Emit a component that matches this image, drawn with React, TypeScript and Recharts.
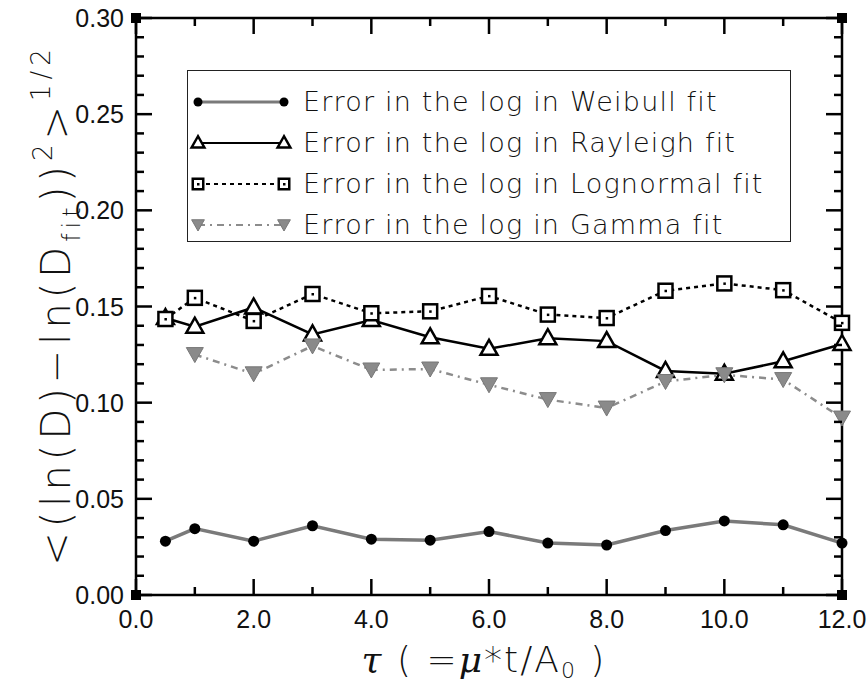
import React from 'react';
import { LineChart, Line, XAxis, YAxis, Legend, ReferenceLine } from 'recharts';

// tau values and fit errors
const tau = [0.5, 1, 2, 3, 4, 5, 6, 7, 8, 9, 10, 11, 12];
const weibull = [0.028, 0.0345, 0.028, 0.036, 0.029, 0.0285, 0.033, 0.027, 0.026, 0.0335, 0.0385, 0.0365, 0.027];
const rayleigh = [0.144, 0.1395, 0.1495, 0.1355, 0.143, 0.134, 0.128, 0.1335, 0.132, 0.1165, 0.115, 0.1215, 0.1305];
const lognormal = [0.1435, 0.1545, 0.1425, 0.1565, 0.1465, 0.1475, 0.1555, 0.1458, 0.144, 0.1582, 0.162, 0.1585, 0.1415];
const gamma = [null, 0.125, 0.115, 0.1295, 0.117, 0.1175, 0.1093, 0.1016, 0.0972, 0.111, 0.1145, 0.112, 0.092];

const xMajor = [0, 2, 4, 6, 8, 10, 12];
const xMinor = [0, 1, 2, 3, 4, 5, 6, 7, 8, 9, 10, 11, 12];
const yMajor = [0, 0.05, 0.1, 0.15, 0.2, 0.25, 0.3];
const yMinor = [
  0, 0.01, 0.02, 0.03, 0.04, 0.05, 0.06, 0.07, 0.08, 0.09, 0.1, 0.11, 0.12, 0.13, 0.14, 0.15,
  0.16, 0.17, 0.18, 0.19, 0.2, 0.21, 0.22, 0.23, 0.24, 0.25, 0.26, 0.27, 0.28, 0.29, 0.3,
];

const seriesNames = [
  'Error in the log in Weibull fit',
  'Error in the log in Rayleigh fit',
  'Error in the log in Lognormal fit',
  'Error in the log in Gamma fit',
];

const rows = tau.map((t, i) => ({
  tau: t,
  weibull: weibull[i],
  rayleigh: rayleigh[i],
  lognormal: lognormal[i],
  gamma: gamma[i],
}));

// layout
const W = 867;
const H = 688;
const margin = { top: 18, right: 25, bottom: 0, left: 0 };
const Y_AXIS_W = 136;
const X_AXIS_H = 93;
const X0 = 0, X1 = 12, Y0 = 0, Y1 = 0.3;
const MAJOR = 16;
const MINOR = 8;

// plot box, same numbers recharts uses for its offset
const box = {
  left: margin.left + Y_AXIS_W,
  top: margin.top,
  right: W - margin.right,
  bottom: H - margin.bottom - X_AXIS_H,
};
const px = (v: number) => box.left + ((v - X0) / (X1 - X0)) * (box.right - box.left);
const py = (v: number) => box.bottom - ((v - Y0) / (Y1 - Y0)) * (box.bottom - box.top);

const black = { stroke: '#000', strokeWidth: 2.5 };
const tickFont = { fontFamily: '"Liberation Sans", Arial, sans-serif', fontSize: 25, fill: '#111' };

const isMajorX = (v: number) => xMajor.includes(v);
const isMajorY = (v: number) => yMajor.some((m) => Math.abs(m - v) < 1e-9);

function BottomLabel(p: any) {
  return (
    <text x={p.x} y={p.y + 33} textAnchor="middle" {...tickFont}>
      {p.payload.value.toFixed(1)}
    </text>
  );
}

function LeftLabel(p: any) {
  return (
    <text x={p.x - 12} y={p.y} dy="0.36em" textAnchor="end" {...tickFont}>
      {p.payload.value.toFixed(2)}
    </text>
  );
}

// inward ticks on all four sides plus the filled corner squares
function Frame() {
  return (
    <svg width={W} height={H} style={{ position: 'absolute', left: 0, top: 0, pointerEvents: 'none' }}>
      {xMinor.map((v) => {
        const len = isMajorX(v) ? MAJOR : MINOR;
        return (
          <g key={`x${v}`}>
            <line x1={px(v)} x2={px(v)} y1={box.bottom} y2={box.bottom - len} {...black} />
            <line x1={px(v)} x2={px(v)} y1={box.top} y2={box.top + len} {...black} />
          </g>
        );
      })}
      {yMinor.map((v) => {
        const len = isMajorY(v) ? MAJOR : MINOR;
        return (
          <g key={`y${v}`}>
            <line x1={box.left} x2={box.left + len} y1={py(v)} y2={py(v)} {...black} />
            <line x1={box.right} x2={box.right - len} y1={py(v)} y2={py(v)} {...black} />
          </g>
        );
      })}
      {[box.left, box.right].map((x) =>
        [box.top, box.bottom].map((y) => <rect key={`${x}-${y}`} x={x - 5} y={y - 5} width={10} height={10} fill="#000" />),
      )}
    </svg>
  );
}

function Circle({ cx, cy, r = 5.5 }: any) {
  return <circle cx={cx} cy={cy} r={r} fill="#000" />;
}

function TriUp({ cx, cy, s = 1 }: any) {
  const pts = `${cx},${cy - 9 * s} ${cx - 8.5 * s},${cy + 6 * s} ${cx + 8.5 * s},${cy + 6 * s}`;
  return <polygon points={pts} fill="#fff" stroke="#000" strokeWidth={2.5} />;
}

function Square({ cx, cy, s = 1 }: any) {
  const h = 7 * s;
  return (
    <g>
      <rect x={cx - h} y={cy - h} width={2 * h} height={2 * h} fill="#fff" stroke="#000" strokeWidth={2.5} />
      <rect x={cx - 1} y={cy - 1} width={2.5} height={2.5} fill="#000" />
    </g>
  );
}

function TriDown({ cx, cy, s = 1 }: any) {
  const pts = `${cx - 8.5 * s},${cy - 7 * s} ${cx + 8.5 * s},${cy - 7 * s} ${cx},${cy + 8 * s}`;
  return <polygon points={pts} fill="#8a8a8a" stroke="#777" strokeWidth={1} />;
}

const markers = [Circle, TriUp, Square, TriDown];
const lineStyles = [
  { stroke: '#7a7a7a', strokeWidth: 3.5, strokeDasharray: undefined },
  { stroke: '#000', strokeWidth: 2.5, strokeDasharray: undefined },
  { stroke: '#000', strokeWidth: 2.5, strokeDasharray: '4 4' },
  { stroke: '#8c8c8c', strokeWidth: 2.5, strokeDasharray: '7 5 2 5' },
];
const keys = ['weibull', 'rayleigh', 'lognormal', 'gamma'];

function dotFor(i: number) {
  const M = markers[i];
  return (p: any) => {
    if (p.cy == null || p.value == null) return <g key={p.index} />;
    return <M key={p.index} cx={p.cx} cy={p.cy} />;
  };
}

function LegendBox() {
  return (
    <div style={{ width: 604, height: 172, border: '1.5px solid #222', boxSizing: 'border-box', background: '#fff', paddingTop: 10 }}>
      {seriesNames.map((name, i) => {
        const M = markers[i];
        const st = lineStyles[i];
        return (
          <div key={name} style={{ display: 'flex', alignItems: 'center', height: 41 }}>
            <svg width={115} height={30} style={{ flexShrink: 0 }}>
              <line x1={10} x2={96} y1={15} y2={15} {...st} strokeWidth={st.strokeWidth - 0.5} />
              <M cx={10} cy={15} s={0.75} r={4.5} />
              <M cx={96} cy={15} s={0.75} r={4.5} />
            </svg>
            <span
              style={{
                fontFamily: '"DejaVu Sans", sans-serif',
                fontWeight: 200,
                fontSize: 27,
                letterSpacing: 1.2,
                color: '#111',
                whiteSpace: 'nowrap',
              }}
            >
              {name}
            </span>
          </div>
        );
      })}
    </div>
  );
}

function Titles() {
  return (
    <g>
      <text
        transform="translate(70,305) rotate(-90)"
        textAnchor="middle"
        fontFamily='"DejaVu Sans", sans-serif'
        fontWeight={200}
        fontSize={40}
        letterSpacing={5}
        fill="#111"
      >
        <tspan>{'<(ln(D)\u2212ln(D'}</tspan>
        <tspan fontSize={24} dy={10}>fit</tspan>
        <tspan dy={-10}>))</tspan>
        <tspan fontSize={26} dy={-18}>2</tspan>
        <tspan dy={18}>{'>'}</tspan>
        <tspan fontSize={26} dy={-20}>1/2</tspan>
      </text>
      <text
        x={484}
        y={672}
        textAnchor="middle"
        fontFamily='"DejaVu Sans", sans-serif'
        fontWeight={200}
        fontSize={36}
        letterSpacing={2}
        fill="#111"
      >
        <tspan fontFamily='"DejaVu Serif", serif' fontStyle="italic">{'\u03c4'}</tspan>
        <tspan>{'  (   ='}</tspan>
        <tspan fontFamily='"DejaVu Serif", serif' fontStyle="italic">{'\u03bc'}</tspan>
        <tspan>{'*t/A'}</tspan>
        <tspan fontSize={22} dy={6}>0</tspan>
        <tspan dy={-6}>{'  )'}</tspan>
      </text>
    </g>
  );
}

export default function App() {
  return (
    <div style={{ position: 'relative', width: W, height: H }}>
      <style>{'body{margin:0}'}</style>
      <LineChart width={W} height={H} data={rows} margin={margin}>
        <XAxis
          dataKey="tau"
          type="number"
          domain={[X0, X1]}
          ticks={xMajor}
          interval={0}
          height={X_AXIS_H}
          tickSize={0}
          tickMargin={0}
          tickLine={false}
          axisLine={black}
          tick={(p: any) => <BottomLabel {...p} />}
          label={{ content: () => <Titles /> }}
        />
        <YAxis
          type="number"
          domain={[Y0, Y1]}
          ticks={yMajor}
          interval={0}
          width={Y_AXIS_W}
          tickSize={0}
          tickMargin={0}
          tickLine={false}
          axisLine={black}
          tick={(p: any) => <LeftLabel {...p} />}
        />
        <ReferenceLine y={Y1} {...black} ifOverflow="visible" />
        <ReferenceLine x={X1} {...black} ifOverflow="visible" />
        {keys.map((k, i) => (
          <Line
            key={k}
            dataKey={k}
            name={seriesNames[i]}
            type="linear"
            {...lineStyles[i]}
            dot={dotFor(i)}
            activeDot={false}
            isAnimationActive={false}
          />
        ))}
        <Legend
          layout="horizontal"
          verticalAlign="middle"
          align="center"
          wrapperStyle={{ left: 187, top: 70, width: 604, height: 172 }}
          content={() => <LegendBox />}
        />
      </LineChart>
      <Frame />
    </div>
  );
}
